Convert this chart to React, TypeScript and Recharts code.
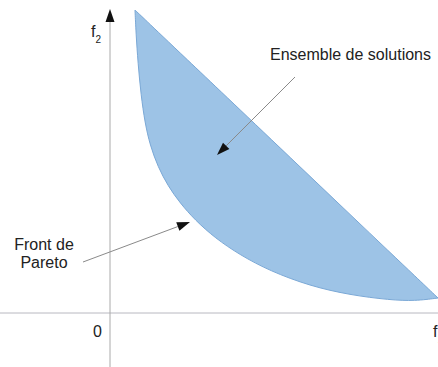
import { ComposedChart, Area, XAxis, YAxis, ReferenceLine, ReferenceDot } from "recharts";

// f1 positions of the sampled boundary points
const f1Values = [2.5, 2.6, 2.8, 3.1, 3.5, 4.0, 4.8, 5.8, 7.0, 8.5, 10.5, 13.0, 16.0, 20.0, 24.0, 28.0, 30.5, 32.8];
// Pareto front (lower boundary)
const frontValues = [30.3, 28.0, 25.0, 21.8, 19.0, 16.8, 14.6, 12.7, 11.0, 9.3, 7.5, 5.8, 4.2, 2.7, 1.8, 1.3, 1.2, 1.5];
// straight upper boundary of the solution set
const upperValues = [30.3, 30.2, 30.01, 29.73, 29.35, 28.87, 28.11, 27.16, 26.02, 24.6, 22.7, 20.33, 17.47, 13.67, 9.86, 6.06, 3.69, 1.5];

const data = f1Values.map((f1, i) => ({ f1, range: [frontValues[i], upperValues[i]] }));

const font = "'Liberation Sans', Arial, sans-serif";

const arrowShape = (color: string) => (props: any) => {
  const { x1, y1, x2, y2 } = props;
  const dx = x2 - x1;
  const dy = y2 - y1;
  const len = Math.sqrt(dx * dx + dy * dy);
  const ux = dx / len;
  const uy = dy / len;
  const hl = 13;
  const hw = 4.5;
  const bx = x2 - ux * hl;
  const by = y2 - uy * hl;
  const pts = `${x2},${y2} ${bx - uy * hw},${by + ux * hw} ${bx + uy * hw},${by - ux * hw}`;
  return (
    <g>
      <line x1={x1} y1={y1} x2={bx} y2={by} stroke={color} strokeWidth={1} />
      <polygon points={pts} fill="#111" />
    </g>
  );
};

const label = (text: string, anchor: string, size = 16, sub?: string) => (props: any) => (
  <text x={props.cx} y={props.cy} fontFamily={font} fontSize={size} fill="#222" textAnchor={anchor as any}>
    {text}
    {sub && (
      <tspan fontSize={10} dy={6}>
        {sub}
      </tspan>
    )}
  </text>
);

export default function App() {
  return (
    <div style={{ position: "absolute", left: 0, top: 0, background: "#fff" }}>
      <ComposedChart width={438} height={367} data={data} margin={{ top: 0, right: 0, bottom: 0, left: 0 }}>
        <XAxis dataKey="f1" type="number" domain={[-11, 32.8]} allowDataOverflow hide />
        <YAxis type="number" domain={[-5.4, 31.3]} allowDataOverflow hide />

        <Area
          type="basis"
          dataKey="range"
          stroke="#7aa8d6"
          strokeWidth={1}
          fill="#9dc3e6"
          fillOpacity={1}
          isAnimationActive={false}
          dot={false}
          activeDot={false}
        />

        <ReferenceLine segment={[{ x: -11, y: 0 }, { x: 32.8, y: 0 }]} stroke="#b8b8c0" ifOverflow="visible" />
        <ReferenceLine
          segment={[{ x: 0, y: -5.4 }, { x: 0, y: 30.4 }]}
          ifOverflow="visible"
          shape={arrowShape("#aaaaaa")}
        />
        <ReferenceLine
          segment={[{ x: 18.5, y: 23.6 }, { x: 10.7, y: 15.8 }]}
          ifOverflow="visible"
          shape={arrowShape("#8a8a8a")}
        />
        <ReferenceLine
          segment={[{ x: -2.7, y: 5.1 }, { x: 8.0, y: 9.1 }]}
          ifOverflow="visible"
          shape={arrowShape("#8a8a8a")}
        />

        <ReferenceDot x={-1.4} y={27.6} r={0} ifOverflow="visible" shape={label("f", "middle", 16, "2")} />
        <ReferenceDot x={-0.8} y={-2.4} r={0} ifOverflow="visible" shape={label("0", "end")} />
        <ReferenceDot x={32.3} y={-2.4} r={0} ifOverflow="visible" shape={label("f", "start", 16, "1")} />
        <ReferenceDot x={16.0} y={25.3} r={0} ifOverflow="visible" shape={label("Ensemble de solutions", "start")} />
        <ReferenceDot x={-6.6} y={6.3} r={0} ifOverflow="visible" shape={label("Front de", "middle")} />
        <ReferenceDot x={-6.6} y={4.5} r={0} ifOverflow="visible" shape={label("Pareto", "middle")} />
      </ComposedChart>
    </div>
  );
}
